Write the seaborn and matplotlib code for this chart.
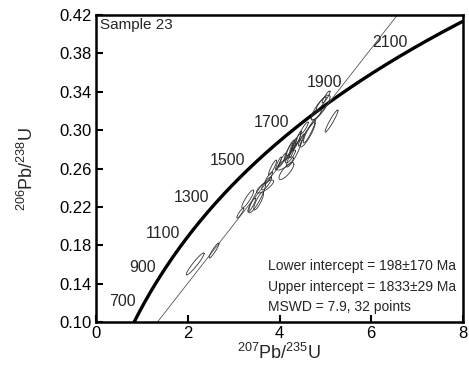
import numpy as np
import pandas as pd
import matplotlib
matplotlib.use("Agg")
import matplotlib.pyplot as plt
import seaborn as sns

# decay constants (1/yr)
L238 = 1.55125e-10
L235 = 9.8485e-10

# age labels on the concordia (Ma)
age_labels = [700, 900, 1100, 1300, 1500, 1700, 1900, 2100]

# intercepts of the discordia (Ma)
lower_int = 198
upper_int = 1833

# analyses: 207Pb/235U, 2s, 206Pb/238U, 2s, rho
pb207_u235 = [2.162, 2.573, 3.146, 3.308, 3.514, 3.546, 3.686, 3.719, 3.849, 4.151,
              4.238, 3.978, 4.119, 4.314, 4.616, 4.649, 4.897, 4.800, 5.135, 4.908,
              4.238, 4.303, 4.368, 4.411, 4.195, 4.281, 4.065, 4.476, 4.541, 3.762,
              3.395, 5.016]
err_75 = [0.195, 0.108, 0.076, 0.130, 0.184, 0.108, 0.184, 0.108, 0.086, 0.162,
          0.108, 0.065, 0.184, 0.162, 0.162, 0.130, 0.205, 0.108, 0.141, 0.108,
          0.086, 0.076, 0.086, 0.065, 0.097, 0.065, 0.086, 0.065, 0.086, 0.086,
          0.086, 0.086]
pb206_u238 = [0.1605, 0.1745, 0.2136, 0.2282, 0.2293, 0.2261, 0.2412, 0.2444, 0.2610, 0.2574,
              0.2725, 0.2652, 0.2652, 0.2756, 0.2954, 0.2986, 0.3236, 0.3158, 0.3095, 0.3278,
              0.2814, 0.2845, 0.2876, 0.2918, 0.2772, 0.2793, 0.2689, 0.2897, 0.3022, 0.2501,
              0.2220, 0.3345]
err_68 = [0.0115, 0.0078, 0.0052, 0.0094, 0.0156, 0.0094, 0.0068, 0.0068, 0.0078, 0.0089,
          0.0068, 0.0068, 0.0068, 0.0141, 0.0130, 0.0120, 0.0130, 0.0052, 0.0115, 0.0068,
          0.0083, 0.0073, 0.0083, 0.0073, 0.0094, 0.0083, 0.0073, 0.0063, 0.0063, 0.0063,
          0.0073, 0.0063]
rho = [0.95, 0.93, 0.90, 0.90, 0.90, 0.85, 0.80, 0.85, 0.90, 0.80,
       0.85, 0.90, 0.80, 0.90, 0.90, 0.92, 0.85, 0.80, 0.95, 0.90,
       0.90, 0.90, 0.90, 0.90, 0.90, 0.90, 0.90, 0.90, 0.90, 0.90,
       0.90, 0.90]

def conc(t):
    return np.exp(L235 * t * 1e6) - 1, np.exp(L238 * t * 1e6) - 1

sns.set_theme(style="ticks")
plt.rcParams["font.family"] = ["Liberation Sans", "DejaVu Sans"]
plt.rcParams["mathtext.fontset"] = "custom"
plt.rcParams["mathtext.rm"] = "Liberation Sans"

fig = plt.figure(figsize=(4.69, 3.65), dpi=100)
ax = fig.add_axes([0.2047, 0.1178, 0.7825, 0.8411])

# concordia
t = np.linspace(550, 2500, 400)
cx, cy = conc(t)
sns.lineplot(x=cx, y=cy, sort=False, estimator=None, color="black", lw=2.4, ax=ax)

# discordia
x0, y0 = conc(lower_int)
x1, y1 = conc(upper_int)
dx = np.linspace(x0, 8, 50)
dy = y0 + (y1 - y0) / (x1 - x0) * (dx - x0)
sns.lineplot(x=dx, y=dy, sort=False, estimator=None, color="#555555", lw=0.6, ax=ax)

# error ellipses
th = np.linspace(0, 2 * np.pi, 80)
rows = []
for i in range(len(pb207_u235)):
    ex = pb207_u235[i] + err_75[i] * np.cos(th)
    ey = pb206_u238[i] + err_68[i] * (rho[i] * np.cos(th) + np.sqrt(1 - rho[i] ** 2) * np.sin(th))
    rows.append(pd.DataFrame({"x": ex, "y": ey, "id": i}))
ell = pd.concat(rows)
sns.lineplot(data=ell, x="x", y="y", units="id", estimator=None, sort=False,
             color="#333333", lw=0.6, ax=ax)

# age labels
for a in age_labels:
    px, py = conc(a)
    ax.annotate(str(a), (px, py), xytext=(-4, 4.5), textcoords="offset points",
                ha="right", va="center", fontsize=11.5)

ax.set_xlim(0, 8)
ax.set_ylim(0.10, 0.42)
ax.set_xticks([0, 2, 4, 6, 8])
ax.set_yticks(np.arange(0.10, 0.43, 0.04))
ax.set_yticklabels(["%.2f" % v for v in np.arange(0.10, 0.43, 0.04)])
ax.tick_params(direction="in", length=5, width=1.5, labelsize=12, pad=3, colors="black")
for s in ax.spines.values():
    s.set_linewidth(1.8)
    s.set_color("black")

ax.set_xlabel(r"$^{207}$Pb/$^{235}$U", fontsize=13, labelpad=1)
ax.set_ylabel(r"$^{206}$Pb/$^{238}$U", fontsize=13, labelpad=16)

ax.text(0.01, 0.99, "Sample 23", transform=ax.transAxes, ha="left", va="top", fontsize=11)
ax.text(0.47, 0.115, "Lower intercept = 198\u00b1170 Ma\nUpper intercept = 1833\u00b129 Ma\nMSWD = 7.9, 32 points",
        transform=ax.transAxes, ha="left", va="center", fontsize=10, linespacing=1.6)

fig.savefig("out.png", dpi=100)
